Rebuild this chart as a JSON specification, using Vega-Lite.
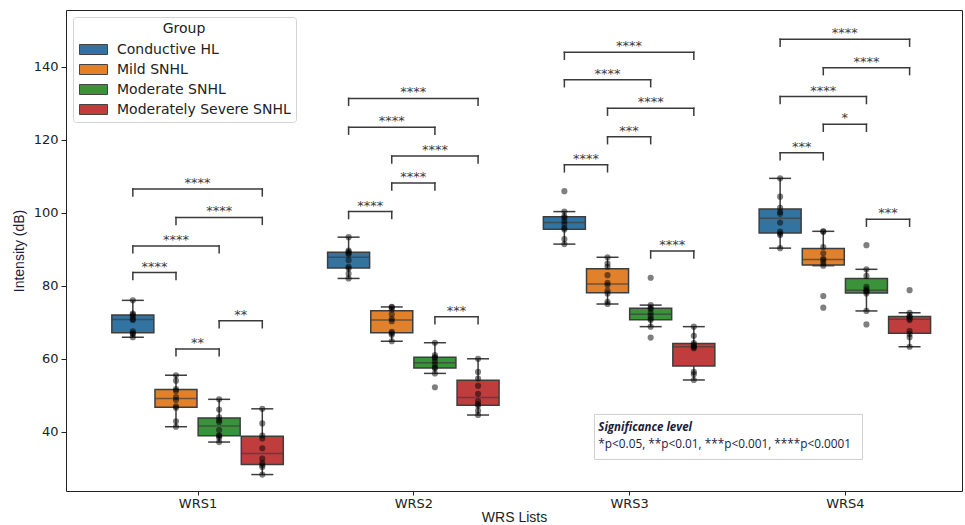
{
  "$schema": "https://vega.github.io/schema/vega-lite/v6.json",
  "autosize": "none",
  "width": 896,
  "height": 481,
  "padding": {"left": 66, "top": 10, "right": 3, "bottom": 34},
  "config": {
    "view": {"stroke": "#222222", "strokeWidth": 1},
    "axis": {
      "grid": false,
      "domain": false,
      "tickColor": "#222222",
      "tickSize": 5,
      "tickWidth": 1,
      "labelFont": "DejaVu Sans",
      "labelFontSize": 13,
      "labelColor": "#222222",
      "labelPadding": 3,
      "titleFontWeight": "normal"
    }
  },
  "datasets": {
    "scores": [
      {"list": "WRS1", "group": "Conductive HL", "value": 65.9},
      {"list": "WRS1", "group": "Conductive HL", "value": 66.8},
      {"list": "WRS1", "group": "Conductive HL", "value": 67.0},
      {"list": "WRS1", "group": "Conductive HL", "value": 67.5},
      {"list": "WRS1", "group": "Conductive HL", "value": 70.6},
      {"list": "WRS1", "group": "Conductive HL", "value": 70.9},
      {"list": "WRS1", "group": "Conductive HL", "value": 71.6},
      {"list": "WRS1", "group": "Conductive HL", "value": 72.1},
      {"list": "WRS1", "group": "Conductive HL", "value": 72.4},
      {"list": "WRS1", "group": "Conductive HL", "value": 76.0},
      {"list": "WRS1", "group": "Mild SNHL", "value": 41.4},
      {"list": "WRS1", "group": "Mild SNHL", "value": 42.9},
      {"list": "WRS1", "group": "Mild SNHL", "value": 46.6},
      {"list": "WRS1", "group": "Mild SNHL", "value": 47.0},
      {"list": "WRS1", "group": "Mild SNHL", "value": 48.7},
      {"list": "WRS1", "group": "Mild SNHL", "value": 49.5},
      {"list": "WRS1", "group": "Mild SNHL", "value": 51.2},
      {"list": "WRS1", "group": "Mild SNHL", "value": 51.7},
      {"list": "WRS1", "group": "Mild SNHL", "value": 54.0},
      {"list": "WRS1", "group": "Mild SNHL", "value": 55.5},
      {"list": "WRS1", "group": "Moderate SNHL", "value": 37.2},
      {"list": "WRS1", "group": "Moderate SNHL", "value": 38.4},
      {"list": "WRS1", "group": "Moderate SNHL", "value": 38.9},
      {"list": "WRS1", "group": "Moderate SNHL", "value": 39.0},
      {"list": "WRS1", "group": "Moderate SNHL", "value": 40.5},
      {"list": "WRS1", "group": "Moderate SNHL", "value": 42.7},
      {"list": "WRS1", "group": "Moderate SNHL", "value": 43.2},
      {"list": "WRS1", "group": "Moderate SNHL", "value": 44.0},
      {"list": "WRS1", "group": "Moderate SNHL", "value": 46.1},
      {"list": "WRS1", "group": "Moderate SNHL", "value": 48.9},
      {"list": "WRS1", "group": "Moderately Severe SNHL", "value": 28.3},
      {"list": "WRS1", "group": "Moderately Severe SNHL", "value": 30.4},
      {"list": "WRS1", "group": "Moderately Severe SNHL", "value": 30.9},
      {"list": "WRS1", "group": "Moderately Severe SNHL", "value": 31.5},
      {"list": "WRS1", "group": "Moderately Severe SNHL", "value": 32.7},
      {"list": "WRS1", "group": "Moderately Severe SNHL", "value": 35.5},
      {"list": "WRS1", "group": "Moderately Severe SNHL", "value": 38.2},
      {"list": "WRS1", "group": "Moderately Severe SNHL", "value": 39.0},
      {"list": "WRS1", "group": "Moderately Severe SNHL", "value": 42.3},
      {"list": "WRS1", "group": "Moderately Severe SNHL", "value": 46.3},
      {"list": "WRS2", "group": "Conductive HL", "value": 82.0},
      {"list": "WRS2", "group": "Conductive HL", "value": 83.3},
      {"list": "WRS2", "group": "Conductive HL", "value": 84.7},
      {"list": "WRS2", "group": "Conductive HL", "value": 85.2},
      {"list": "WRS2", "group": "Conductive HL", "value": 87.0},
      {"list": "WRS2", "group": "Conductive HL", "value": 88.6},
      {"list": "WRS2", "group": "Conductive HL", "value": 88.9},
      {"list": "WRS2", "group": "Conductive HL", "value": 89.3},
      {"list": "WRS2", "group": "Conductive HL", "value": 89.6},
      {"list": "WRS2", "group": "Conductive HL", "value": 93.3},
      {"list": "WRS2", "group": "Mild SNHL", "value": 64.8},
      {"list": "WRS2", "group": "Mild SNHL", "value": 66.6},
      {"list": "WRS2", "group": "Mild SNHL", "value": 67.0},
      {"list": "WRS2", "group": "Mild SNHL", "value": 67.4},
      {"list": "WRS2", "group": "Mild SNHL", "value": 70.3},
      {"list": "WRS2", "group": "Mild SNHL", "value": 70.9},
      {"list": "WRS2", "group": "Mild SNHL", "value": 72.2},
      {"list": "WRS2", "group": "Mild SNHL", "value": 73.5},
      {"list": "WRS2", "group": "Mild SNHL", "value": 74.1},
      {"list": "WRS2", "group": "Mild SNHL", "value": 74.2},
      {"list": "WRS2", "group": "Moderate SNHL", "value": 52.2},
      {"list": "WRS2", "group": "Moderate SNHL", "value": 56.0},
      {"list": "WRS2", "group": "Moderate SNHL", "value": 57.4},
      {"list": "WRS2", "group": "Moderate SNHL", "value": 57.6},
      {"list": "WRS2", "group": "Moderate SNHL", "value": 58.5},
      {"list": "WRS2", "group": "Moderate SNHL", "value": 59.3},
      {"list": "WRS2", "group": "Moderate SNHL", "value": 60.2},
      {"list": "WRS2", "group": "Moderate SNHL", "value": 60.5},
      {"list": "WRS2", "group": "Moderate SNHL", "value": 61.0},
      {"list": "WRS2", "group": "Moderate SNHL", "value": 64.4},
      {"list": "WRS2", "group": "Moderately Severe SNHL", "value": 44.6},
      {"list": "WRS2", "group": "Moderately Severe SNHL", "value": 45.8},
      {"list": "WRS2", "group": "Moderately Severe SNHL", "value": 47.2},
      {"list": "WRS2", "group": "Moderately Severe SNHL", "value": 47.6},
      {"list": "WRS2", "group": "Moderately Severe SNHL", "value": 48.4},
      {"list": "WRS2", "group": "Moderately Severe SNHL", "value": 50.4},
      {"list": "WRS2", "group": "Moderately Severe SNHL", "value": 52.6},
      {"list": "WRS2", "group": "Moderately Severe SNHL", "value": 54.6},
      {"list": "WRS2", "group": "Moderately Severe SNHL", "value": 56.4},
      {"list": "WRS2", "group": "Moderately Severe SNHL", "value": 60.0},
      {"list": "WRS3", "group": "Conductive HL", "value": 91.4},
      {"list": "WRS3", "group": "Conductive HL", "value": 92.8},
      {"list": "WRS3", "group": "Conductive HL", "value": 95.4},
      {"list": "WRS3", "group": "Conductive HL", "value": 95.8},
      {"list": "WRS3", "group": "Conductive HL", "value": 96.9},
      {"list": "WRS3", "group": "Conductive HL", "value": 97.7},
      {"list": "WRS3", "group": "Conductive HL", "value": 98.6},
      {"list": "WRS3", "group": "Conductive HL", "value": 99.0},
      {"list": "WRS3", "group": "Conductive HL", "value": 100.3},
      {"list": "WRS3", "group": "Conductive HL", "value": 105.9},
      {"list": "WRS3", "group": "Mild SNHL", "value": 75.0},
      {"list": "WRS3", "group": "Mild SNHL", "value": 75.6},
      {"list": "WRS3", "group": "Mild SNHL", "value": 77.9},
      {"list": "WRS3", "group": "Mild SNHL", "value": 78.6},
      {"list": "WRS3", "group": "Mild SNHL", "value": 80.2},
      {"list": "WRS3", "group": "Mild SNHL", "value": 80.8},
      {"list": "WRS3", "group": "Mild SNHL", "value": 82.9},
      {"list": "WRS3", "group": "Mild SNHL", "value": 85.2},
      {"list": "WRS3", "group": "Mild SNHL", "value": 86.1},
      {"list": "WRS3", "group": "Mild SNHL", "value": 87.8},
      {"list": "WRS3", "group": "Moderate SNHL", "value": 65.8},
      {"list": "WRS3", "group": "Moderate SNHL", "value": 68.8},
      {"list": "WRS3", "group": "Moderate SNHL", "value": 70.6},
      {"list": "WRS3", "group": "Moderate SNHL", "value": 71.0},
      {"list": "WRS3", "group": "Moderate SNHL", "value": 71.8},
      {"list": "WRS3", "group": "Moderate SNHL", "value": 72.6},
      {"list": "WRS3", "group": "Moderate SNHL", "value": 73.7},
      {"list": "WRS3", "group": "Moderate SNHL", "value": 73.9},
      {"list": "WRS3", "group": "Moderate SNHL", "value": 74.7},
      {"list": "WRS3", "group": "Moderate SNHL", "value": 82.2},
      {"list": "WRS3", "group": "Moderately Severe SNHL", "value": 54.2},
      {"list": "WRS3", "group": "Moderately Severe SNHL", "value": 55.8},
      {"list": "WRS3", "group": "Moderately Severe SNHL", "value": 56.4},
      {"list": "WRS3", "group": "Moderately Severe SNHL", "value": 62.9},
      {"list": "WRS3", "group": "Moderately Severe SNHL", "value": 63.2},
      {"list": "WRS3", "group": "Moderately Severe SNHL", "value": 63.4},
      {"list": "WRS3", "group": "Moderately Severe SNHL", "value": 63.8},
      {"list": "WRS3", "group": "Moderately Severe SNHL", "value": 64.3},
      {"list": "WRS3", "group": "Moderately Severe SNHL", "value": 66.3},
      {"list": "WRS3", "group": "Moderately Severe SNHL", "value": 68.8},
      {"list": "WRS4", "group": "Conductive HL", "value": 90.3},
      {"list": "WRS4", "group": "Conductive HL", "value": 93.9},
      {"list": "WRS4", "group": "Conductive HL", "value": 94.3},
      {"list": "WRS4", "group": "Conductive HL", "value": 94.8},
      {"list": "WRS4", "group": "Conductive HL", "value": 97.3},
      {"list": "WRS4", "group": "Conductive HL", "value": 99.7},
      {"list": "WRS4", "group": "Conductive HL", "value": 100.2},
      {"list": "WRS4", "group": "Conductive HL", "value": 101.3},
      {"list": "WRS4", "group": "Conductive HL", "value": 104.4},
      {"list": "WRS4", "group": "Conductive HL", "value": 109.4},
      {"list": "WRS4", "group": "Mild SNHL", "value": 74.0},
      {"list": "WRS4", "group": "Mild SNHL", "value": 77.2},
      {"list": "WRS4", "group": "Mild SNHL", "value": 85.5},
      {"list": "WRS4", "group": "Mild SNHL", "value": 86.2},
      {"list": "WRS4", "group": "Mild SNHL", "value": 87.0},
      {"list": "WRS4", "group": "Mild SNHL", "value": 87.4},
      {"list": "WRS4", "group": "Mild SNHL", "value": 88.9},
      {"list": "WRS4", "group": "Mild SNHL", "value": 90.6},
      {"list": "WRS4", "group": "Mild SNHL", "value": 94.8},
      {"list": "WRS4", "group": "Mild SNHL", "value": 94.9},
      {"list": "WRS4", "group": "Moderate SNHL", "value": 69.4},
      {"list": "WRS4", "group": "Moderate SNHL", "value": 73.1},
      {"list": "WRS4", "group": "Moderate SNHL", "value": 77.9},
      {"list": "WRS4", "group": "Moderate SNHL", "value": 78.4},
      {"list": "WRS4", "group": "Moderate SNHL", "value": 78.6},
      {"list": "WRS4", "group": "Moderate SNHL", "value": 79.0},
      {"list": "WRS4", "group": "Moderate SNHL", "value": 79.7},
      {"list": "WRS4", "group": "Moderate SNHL", "value": 82.7},
      {"list": "WRS4", "group": "Moderate SNHL", "value": 84.5},
      {"list": "WRS4", "group": "Moderate SNHL", "value": 91.1},
      {"list": "WRS4", "group": "Moderately Severe SNHL", "value": 63.3},
      {"list": "WRS4", "group": "Moderately Severe SNHL", "value": 65.9},
      {"list": "WRS4", "group": "Moderately Severe SNHL", "value": 66.8},
      {"list": "WRS4", "group": "Moderately Severe SNHL", "value": 67.6},
      {"list": "WRS4", "group": "Moderately Severe SNHL", "value": 70.6},
      {"list": "WRS4", "group": "Moderately Severe SNHL", "value": 71.0},
      {"list": "WRS4", "group": "Moderately Severe SNHL", "value": 71.5},
      {"list": "WRS4", "group": "Moderately Severe SNHL", "value": 71.6},
      {"list": "WRS4", "group": "Moderately Severe SNHL", "value": 72.6},
      {"list": "WRS4", "group": "Moderately Severe SNHL", "value": 78.8}
    ],
    "brackets": [
      {"list": "WRS1", "g1": "Conductive HL", "g2": "Mild SNHL", "y": 83.6, "label": "****"},
      {"list": "WRS1", "g1": "Mild SNHL", "g2": "Moderate SNHL", "y": 62.7, "label": "**"},
      {"list": "WRS1", "g1": "Moderate SNHL", "g2": "Moderately Severe SNHL", "y": 70.4, "label": "**"},
      {"list": "WRS1", "g1": "Conductive HL", "g2": "Moderate SNHL", "y": 90.9, "label": "****"},
      {"list": "WRS1", "g1": "Mild SNHL", "g2": "Moderately Severe SNHL", "y": 98.7, "label": "****"},
      {"list": "WRS1", "g1": "Conductive HL", "g2": "Moderately Severe SNHL", "y": 106.5, "label": "****"},
      {"list": "WRS2", "g1": "Conductive HL", "g2": "Mild SNHL", "y": 100.3, "label": "****"},
      {"list": "WRS2", "g1": "Mild SNHL", "g2": "Moderate SNHL", "y": 108.1, "label": "****"},
      {"list": "WRS2", "g1": "Mild SNHL", "g2": "Moderately Severe SNHL", "y": 115.5, "label": "****"},
      {"list": "WRS2", "g1": "Conductive HL", "g2": "Moderate SNHL", "y": 123.4, "label": "****"},
      {"list": "WRS2", "g1": "Conductive HL", "g2": "Moderately Severe SNHL", "y": 131.3, "label": "****"},
      {"list": "WRS2", "g1": "Moderate SNHL", "g2": "Moderately Severe SNHL", "y": 71.5, "label": "***"},
      {"list": "WRS3", "g1": "Conductive HL", "g2": "Mild SNHL", "y": 113.1, "label": "****"},
      {"list": "WRS3", "g1": "Mild SNHL", "g2": "Moderate SNHL", "y": 120.8, "label": "***"},
      {"list": "WRS3", "g1": "Mild SNHL", "g2": "Moderately Severe SNHL", "y": 128.6, "label": "****"},
      {"list": "WRS3", "g1": "Conductive HL", "g2": "Moderate SNHL", "y": 136.4, "label": "****"},
      {"list": "WRS3", "g1": "Conductive HL", "g2": "Moderately Severe SNHL", "y": 143.9, "label": "****"},
      {"list": "WRS3", "g1": "Moderate SNHL", "g2": "Moderately Severe SNHL", "y": 89.5, "label": "****"},
      {"list": "WRS4", "g1": "Conductive HL", "g2": "Mild SNHL", "y": 116.4, "label": "***"},
      {"list": "WRS4", "g1": "Mild SNHL", "g2": "Moderate SNHL", "y": 124.2, "label": "*"},
      {"list": "WRS4", "g1": "Conductive HL", "g2": "Moderate SNHL", "y": 131.8, "label": "****"},
      {"list": "WRS4", "g1": "Mild SNHL", "g2": "Moderately Severe SNHL", "y": 139.7, "label": "****"},
      {"list": "WRS4", "g1": "Conductive HL", "g2": "Moderately Severe SNHL", "y": 147.5, "label": "****"},
      {"list": "WRS4", "g1": "Moderate SNHL", "g2": "Moderately Severe SNHL", "y": 98.2, "label": "***"}
    ]
  },
  "encoding": {
    "x": {
      "type": "quantitative",
      "scale": {"domain": [-0.5866, 3.5197], "nice": false, "zero": false},
      "axis": {
        "values": [0, 1, 2, 3],
        "labelExpr": "['WRS1', 'WRS2', 'WRS3', 'WRS4'][datum.value]",
        "tickSize": 4,
        "labelPadding": 2,
        "title": "WRS Lists",
        "titleFont": "Liberation Sans",
        "titleFontSize": 14,
        "titleColor": "#222222",
        "titlePadding": 0
      }
    },
    "y": {
      "type": "quantitative",
      "scale": {"domain": [23.8, 155.5], "nice": false, "zero": false},
      "axis": {
        "values": [40, 60, 80, 100, 120, 140],
        "title": "Intensity (dB)",
        "titleFont": "Liberation Sans",
        "titleFontSize": 14,
        "titleColor": "#1c1c3c",
        "titlePadding": 7
      }
    }
  },
  "layer": [
    {
      "data": {"name": "brackets"},
      "transform": [
        {"calculate": "indexof(['WRS1','WRS2','WRS3','WRS4'], datum.list) + (indexof(['Conductive HL','Mild SNHL','Moderate SNHL','Moderately Severe SNHL'], datum.g1) - 1.5) * 0.2", "as": "x1"},
        {"calculate": "indexof(['WRS1','WRS2','WRS3','WRS4'], datum.list) + (indexof(['Conductive HL','Mild SNHL','Moderate SNHL','Moderately Severe SNHL'], datum.g2) - 1.5) * 0.2", "as": "x2"},
        {"calculate": "(datum.x1 + datum.x2) / 2", "as": "xm"},
        {"calculate": "datum.y - 1.9", "as": "ylow"}
      ],
      "layer": [
        {
          "mark": {"type": "rule", "color": "#3a3a3a", "strokeWidth": 1.5, "strokeCap": "square"},
          "encoding": {
            "x": {"field": "x1"},
            "x2": {"field": "x2"},
            "y": {"field": "y"}
          }
        },
        {
          "mark": {"type": "rule", "color": "#3a3a3a", "strokeWidth": 1.5, "strokeCap": "square"},
          "encoding": {
            "x": {"field": "x1"},
            "y": {"field": "ylow"},
            "y2": {"field": "y"}
          }
        },
        {
          "mark": {"type": "rule", "color": "#3a3a3a", "strokeWidth": 1.5, "strokeCap": "square"},
          "encoding": {
            "x": {"field": "x2"},
            "y": {"field": "ylow"},
            "y2": {"field": "y"}
          }
        },
        {
          "mark": {"type": "text", "font": "DejaVu Sans", "fontSize": 13, "color": "#3a3a3a", "baseline": "alphabetic", "align": "center", "dy": -2},
          "encoding": {
            "x": {"field": "xm"},
            "y": {"field": "y"},
            "text": {"field": "label"}
          }
        }
      ]
    },
    {
      "data": {"name": "scores"},
      "transform": [
        {"calculate": "indexof(['WRS1','WRS2','WRS3','WRS4'], datum.list) + (indexof(['Conductive HL','Mild SNHL','Moderate SNHL','Moderately Severe SNHL'], datum.group) - 1.5) * 0.2", "as": "pos"}
      ],
      "layer": [
        {
          "mark": {
            "type": "boxplot",
            "orient": "vertical",
            "extent": 1.5,
            "size": 42,
            "outliers": false,
            "box": {"stroke": "#3d3d3d", "strokeWidth": 1.5, "opacity": 1},
            "median": {"color": "#3d3d3d", "thickness": 1.5},
            "rule": {"color": "#3d3d3d", "strokeWidth": 1.5},
            "ticks": {"color": "#3d3d3d", "size": 22, "thickness": 1.5}
          },
          "encoding": {
            "x": {"field": "pos", "type": "quantitative"},
            "y": {"field": "value", "type": "quantitative"},
            "color": {
              "field": "group",
              "type": "nominal",
              "sort": ["Conductive HL", "Mild SNHL", "Moderate SNHL", "Moderately Severe SNHL"],
              "scale": {
                "domain": ["Conductive HL", "Mild SNHL", "Moderate SNHL", "Moderately Severe SNHL"],
                "range": ["#3274a1", "#e1812c", "#3a923a", "#c03d3e"]
              },
              "legend": {
                "title": "Group",
                "orient": "top-left",
                "offset": 7,
                "padding": 5,
                "fillColor": "white",
                "strokeColor": "#d3d3d3",
                "cornerRadius": 3,
                "titleAnchor": "middle",
                "titleFont": "DejaVu Sans",
                "titleFontSize": 14,
                "titleFontWeight": "normal",
                "titleColor": "#222222",
                "titlePadding": 3,
                "labelFont": "DejaVu Sans",
                "labelFontSize": 14,
                "labelColor": "#222222",
                "labelLimit": 0,
                "labelOffset": 18,
                "symbolType": "M-0.9,-0.5H1.9V0.5H-0.9Z",
                "symbolSize": 400,
                "symbolStrokeColor": "#444444",
                "symbolStrokeWidth": 1,
                "symbolOpacity": 1,
                "rowPadding": 2
              }
            }
          }
        },
        {
          "mark": {"type": "point", "filled": true, "color": "black", "opacity": 0.5, "size": 38, "strokeWidth": 0},
          "encoding": {
            "x": {"field": "pos", "type": "quantitative"},
            "y": {"field": "value", "type": "quantitative"}
          }
        }
      ]
    },
    {
      "data": {"values": [{"title": "Significance level", "key": "*p<0.05, **p<0.01, ***p<0.001, ****p<0.0001"}]},
      "layer": [
        {
          "mark": {"type": "rect", "fill": "white", "stroke": "#cfcfcf", "strokeWidth": 1},
          "encoding": {
            "x": {"datum": 1.8396},
            "x2": {"datum": 3.0816},
            "y": {"datum": 44.77},
            "y2": {"datum": 32.44}
          }
        },
        {
          "mark": {"type": "text", "font": "Open Sans", "fontSize": 11.5, "fontWeight": "bold", "fontStyle": "italic", "color": "#1b1b3a", "align": "left", "baseline": "middle"},
          "encoding": {
            "x": {"datum": 1.8575},
            "y": {"datum": 40.93},
            "text": {"field": "title"}
          }
        },
        {
          "mark": {"type": "text", "font": "Open Sans", "fontSize": 11.8, "color": "#1b1b3a", "align": "left", "baseline": "middle"},
          "encoding": {
            "x": {"datum": 1.8575},
            "y": {"datum": 36.7},
            "text": {"field": "key"}
          }
        }
      ]
    }
  ]
}
